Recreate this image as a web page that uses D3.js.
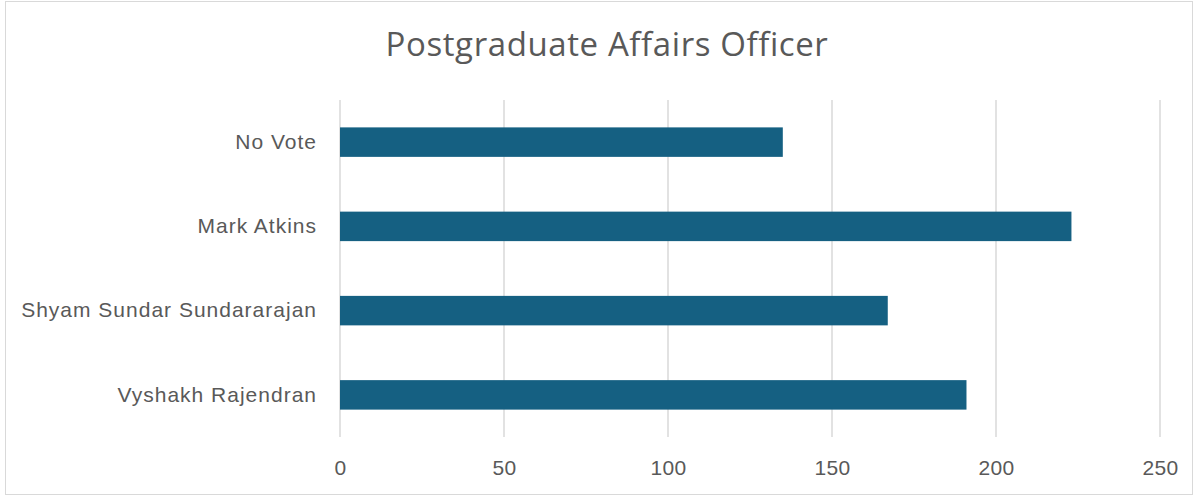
<!DOCTYPE html>
<html>
<head>
<meta charset="utf-8">
<script src="https://cdn.jsdelivr.net/npm/d3@7"></script>
<style>
  body { margin: 0; background: #fff; }
  svg { display: block; font-family: "Open Sans", "Liberation Sans", sans-serif; }
</style>
</head>
<body>
<svg id="svg"></svg>
<script>
// chart data
const categories = ["No Vote", "Mark Atkins", "Shyam Sundar Sundararajan", "Vyshakh Rajendran"];
const votes = [135, 223, 167, 191];
const tickValues = [0, 50, 100, 150, 200, 250];
const title = "Postgraduate Affairs Officer";

const width = 1198;
const height = 497;
const margin = { top: 100, right: 38, bottom: 60, left: 340 };

let svg = d3.select("#svg")
    .attr("width", width)
    .attr("height", height);

// chart border
svg.append("rect")
    .attr("x", 5.5)
    .attr("y", 1.5)
    .attr("width", 1187)
    .attr("height", 493)
    .attr("fill", "#fff")
    .attr("stroke", "#d9d9d9")
    .attr("stroke-width", 1);

const chartWidth = width - margin.left - margin.right;
const chartHeight = height - margin.top - margin.bottom;

const chart = svg.append("g")
    .attr("transform", `translate(${margin.left},${margin.top})`);

const xScale = d3.scaleLinear()
    .domain([0, 250])
    .range([0, chartWidth]);

const yScale = d3.scaleBand()
    .domain(categories)
    .range([0, chartHeight])
    .paddingInner(0.65)
    .paddingOuter(0.325);

// gridlines
chart.append("g")
    .attr("class", "grid")
    .selectAll("line")
    .data(tickValues)
    .enter().append("line")
    .attr("x1", d => xScale(d))
    .attr("x2", d => xScale(d))
    .attr("y1", 0)
    .attr("y2", chartHeight)
    .attr("stroke", "#d9d9d9")
    .attr("stroke-width", 1.5);

// bars
chart.selectAll(".bar")
    .data(categories)
    .enter().append("rect")
    .attr("class", "bar")
    .attr("x", xScale(0))
    .attr("y", d => yScale(d))
    .attr("width", (d, i) => xScale(votes[i]) - xScale(0))
    .attr("height", yScale.bandwidth())
    .attr("fill", "#156082");

// x axis (labels only)
const xAxis = chart.append("g")
    .attr("class", "x-axis")
    .attr("transform", `translate(0,${chartHeight})`)
    .call(d3.axisBottom(xScale).tickValues(tickValues).tickSize(0).tickPadding(23));
xAxis.select(".domain").remove();
xAxis.selectAll("text")
    .style("font-size", "21px")
    .style("letter-spacing", "0.3px")
    .style("fill", "#595959")
    .style("font-family", "inherit");

// y axis (labels only)
const yAxis = chart.append("g")
    .attr("class", "y-axis")
    .call(d3.axisLeft(yScale).tickSize(0).tickPadding(23));
yAxis.select(".domain").remove();
yAxis.selectAll("text")
    .style("font-size", "21px")
    .style("letter-spacing", "1px")
    .style("fill", "#595959")
    .style("font-family", "inherit");

// title
svg.append("text")
    .attr("id", "chart-title")
    .attr("x", 607)
    .attr("y", 56)
    .attr("text-anchor", "middle")
    .style("font-size", "33px")
    .style("letter-spacing", "0.6px")
    .style("fill", "#595959")
    .text(title);
</script>
</body>
</html>
